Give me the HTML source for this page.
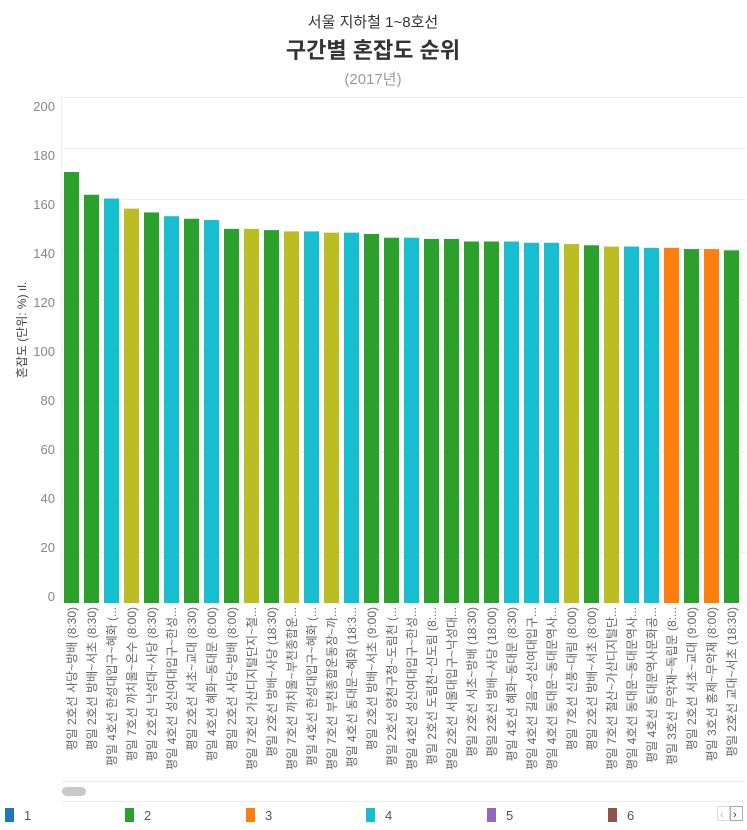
<!DOCTYPE html>
<html><head><meta charset="utf-8"><style>
html,body{margin:0;padding:0;background:#fff;}
svg{display:block;font-family:"Liberation Sans","Noto Sans CJK KR",sans-serif;}
</style></head><body>
<svg width="747" height="830" viewBox="0 0 747 830" xmlns="http://www.w3.org/2000/svg">
<text x="373" y="27" text-anchor="middle" font-size="15" fill="#333">서울 지하철 1~8호선</text>
<text x="373" y="58" text-anchor="middle" font-size="22" font-weight="bold" fill="#333">구간별 혼잡도 순위</text>
<text x="373" y="84" text-anchor="middle" font-size="15" fill="#999">(2017년)</text>
<g id="grid" stroke="#eee" stroke-width="1"><line x1="61.5" y1="97" x2="61.5" y2="604"/></g>
<g font-size="13" fill="#888" text-anchor="end">
<text x="55" y="111">200</text><text x="55" y="160">180</text><text x="55" y="209">160</text><text x="55" y="258">140</text><text x="55" y="307">120</text><text x="55" y="356">100</text><text x="55" y="405">80</text><text x="55" y="454">60</text><text x="55" y="503">40</text><text x="55" y="552">20</text><text x="55" y="601">0</text>
</g>
<text transform="translate(26,330) rotate(-90)" text-anchor="middle" font-size="12" fill="#444">혼잡도 (단위: %) ıl.</text>
<g id="bars"></g>
<g id="labels" font-size="12" fill="#666"></g>
<line x1="62" y1="781.5" x2="745" y2="781.5" stroke="#eee"/>
<line x1="62" y1="801.5" x2="745" y2="801.5" stroke="#eee"/>
<rect x="62" y="787" width="24" height="9" rx="4.5" fill="#c8c8c8"/>
<g font-size="13" fill="#555">
<rect x="5" y="808" width="9" height="14" fill="#1f77b4"/><text x="24" y="820">1</text>
<rect x="125" y="808" width="9" height="14" fill="#2ca02c"/><text x="144" y="820">2</text>
<rect x="246" y="808" width="9" height="14" fill="#ff7f0e"/><text x="265" y="820">3</text>
<rect x="366" y="808" width="9" height="14" fill="#17becf"/><text x="385" y="820">4</text>
<rect x="487" y="808" width="9" height="14" fill="#9467bd"/><text x="506" y="820">5</text>
<rect x="608" y="808" width="9" height="14" fill="#8c564b"/><text x="627" y="820">6</text>
</g>
<rect x="717.5" y="806.5" width="12" height="14" fill="#fff" stroke="#ddd"/><text x="720" y="818" font-size="11" fill="#bbb">‹</text>
<rect x="730.5" y="806.5" width="12" height="14" fill="#fff" stroke="#aaa"/><text x="733" y="818" font-size="11" fill="#333">›</text>
</svg>
<script>
var d=[[170.5,"g","평일 2호선 사당~방배 (8:30)"],[161.5,"g","평일 2호선 방배~서초 (8:30)"],[160,"c","평일 4호선 한성대입구~혜화 (..."],[156,"o","평일 7호선 까치울~온수 (8:00)"],[154.5,"g","평일 2호선 낙성대~사당 (8:30)"],[153,"c","평일 4호선 성신여대입구~한성..."],[152,"g","평일 2호선 서초~교대 (8:30)"],[151.5,"c","평일 4호선 혜화~동대문 (8:00)"],[148,"g","평일 2호선 사당~방배 (8:00)"],[148,"o","평일 7호선 가산디지털단지~철..."],[147.5,"g","평일 2호선 방배~사당 (18:30)"],[147,"o","평일 7호선 까치울~부천종합운..."],[147,"c","평일 4호선 한성대입구~혜화 (..."],[146.5,"o","평일 7호선 부천종합운동장~까..."],[146.5,"c","평일 4호선 동대문~혜화 (18:3..."],[146,"g","평일 2호선 방배~서초 (9:00)"],[144.5,"g","평일 2호선 양천구청~도림천 (..."],[144.5,"c","평일 4호선 성신여대입구~한성..."],[144,"g","평일 2호선 도림천~신도림 (8:..."],[144,"g","평일 2호선 서울대입구~낙성대..."],[143,"g","평일 2호선 서초~방배 (18:30)"],[143,"g","평일 2호선 방배~사당 (18:00)"],[143,"c","평일 4호선 혜화~동대문 (8:30)"],[142.5,"c","평일 4호선 길음~성신여대입구..."],[142.5,"c","평일 4호선 동대문~동대문역사..."],[142,"o","평일 7호선 신풍~대림 (8:00)"],[141.5,"g","평일 2호선 방배~서초 (8:00)"],[141,"o","평일 7호선 철산~가산디지털단..."],[141,"c","평일 4호선 동대문~동대문역사..."],[140.5,"c","평일 4호선 동대문역사문화공..."],[140.5,"r","평일 3호선 무악재~독립문 (8:..."],[140,"g","평일 2호선 서초~교대 (9:00)"],[140,"r","평일 3호선 홍제~무악재 (8:00)"],[139.5,"g","평일 2호선 교대~서초 (18:30)"]];
var col={g:"#2ca02c",c:"#17becf",o:"#bcbd22",r:"#ff7f0e"};
var ns="http://www.w3.org/2000/svg",B=document.getElementById("bars"),L=document.getElementById("labels"),G=document.getElementById("grid");
var Z=603,S=2.528;
for(var v=20;v<=200;v+=20){var l=document.createElementNS(ns,"line");var y=Math.round(Z-v*S)+0.5;l.setAttribute("x1",62);l.setAttribute("x2",745);l.setAttribute("y1",y);l.setAttribute("y2",y);G.appendChild(l);}
d.forEach(function(e,i){var x=64+i*20,h=e[0]*S,r=document.createElementNS(ns,"rect");
r.setAttribute("x",x);r.setAttribute("y",Z-h);r.setAttribute("width",15);r.setAttribute("height",h);r.setAttribute("fill",col[e[1]]);B.appendChild(r);
var t=document.createElementNS(ns,"text");t.setAttribute("transform","translate("+(x+12)+",607) rotate(-90)");t.setAttribute("text-anchor","end");t.textContent=e[2];L.appendChild(t);});
</script>
</body></html>
